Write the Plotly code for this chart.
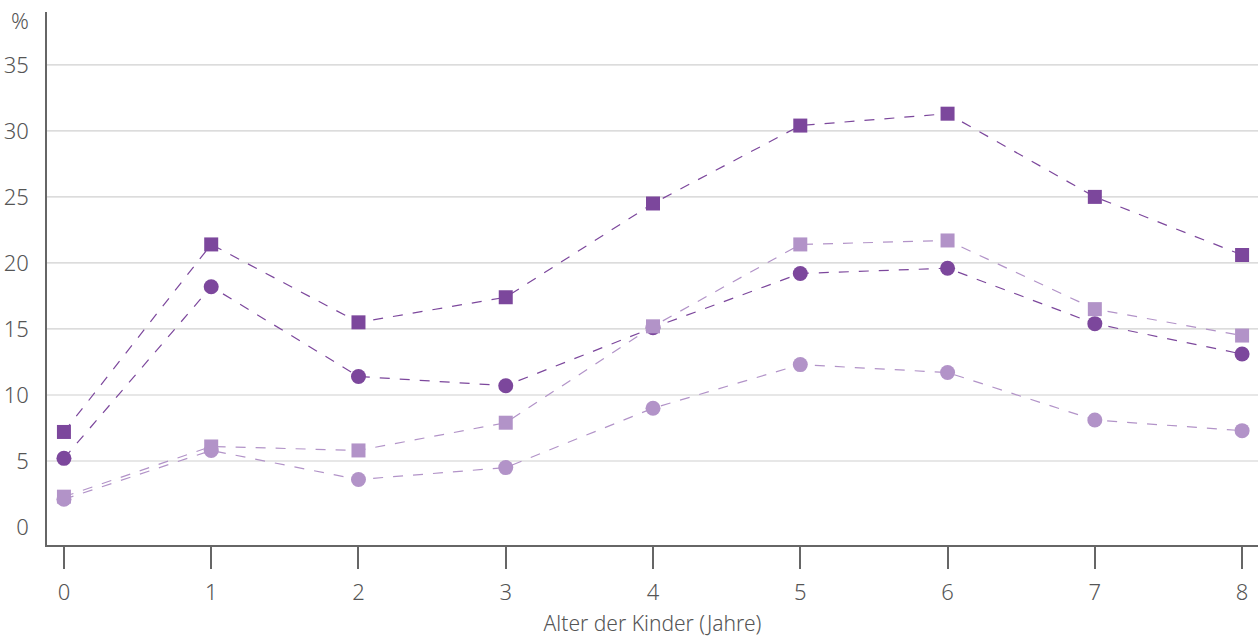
import plotly.graph_objects as go

# ===== DATEN =====
alter = [0, 1, 2, 3, 4, 5, 6, 7, 8]
dunkel_quadrat = [7.2, 21.4, 15.5, 17.4, 24.5, 30.4, 31.3, 25.0, 20.6]
dunkel_kreis = [5.2, 18.2, 11.4, 10.7, 15.1, 19.2, 19.6, 15.4, 13.1]
hell_quadrat = [2.3, 6.1, 5.8, 7.9, 15.2, 21.4, 21.7, 16.5, 14.5]
hell_kreis = [2.1, 5.8, 3.6, 4.5, 9.0, 12.3, 11.7, 8.1, 7.3]
y_ticks = [0, 5, 10, 15, 20, 25, 30, 35]

DUNKEL = '#7c479c'
HELL = '#b293c8'
TEXT = '#555555'
GRID = '#d0d0d0'
FONT = "Noto Sans, Arial, sans-serif"

fig = go.Figure()

serien = [
    (dunkel_kreis, DUNKEL, 'circle', 15),
    (hell_kreis, HELL, 'circle', 15),
    (dunkel_quadrat, DUNKEL, 'square', 14),
    (hell_quadrat, HELL, 'square', 14),
]
for werte, farbe, symbol, groesse in serien:
    fig.add_trace(go.Scatter(
        x=alter, y=werte, mode='lines+markers',
        line=dict(color=farbe, width=1.2, dash='10px,10px'),
        marker=dict(color=farbe, symbol=symbol, size=groesse),
        showlegend=False, hoverinfo='x+y'
    ))

# Gitterlinien ohne Nulllinie
for v in y_ticks[1:]:
    fig.add_shape(type='line', xref='paper', yref='y', x0=0, x1=1, y0=v, y1=v,
                  line=dict(color=GRID, width=1.2), layer='below')

fig.add_annotation(text='%', xref='paper', yref='paper', x=-0.013, y=0.985,
                   xanchor='right', yanchor='middle', showarrow=False,
                   font=dict(family=FONT, size=22, color=TEXT, weight=300))

fig.update_layout(
    width=1258, height=637,
    margin=dict(l=47, r=0, t=12, b=92),
    paper_bgcolor='white', plot_bgcolor='white',
    font=dict(family=FONT, size=22, color=TEXT, weight=300),
    xaxis=dict(
        range=[-0.115, 8.108], tickvals=alter, showgrid=False, zeroline=False,
        showline=True, linecolor='#666666', linewidth=1.5,
        ticks='outside', ticklen=22, tickwidth=1.5, tickcolor='#666666',
        ticklabelstandoff=5,
        title=dict(text='Alter der Kinder (Jahre)', font=dict(size=21), standoff=13),
    ),
    yaxis=dict(
        range=[-1.36, 39.0], tickvals=y_ticks, showgrid=False, zeroline=False,
        showline=True, linecolor='#666666', linewidth=1.5,
        ticks='', ticklabelstandoff=12,
    ),
)

fig.write_html("out.html", config={'displayModeBar': False},
               post_script="document.body.style.margin='0';")
